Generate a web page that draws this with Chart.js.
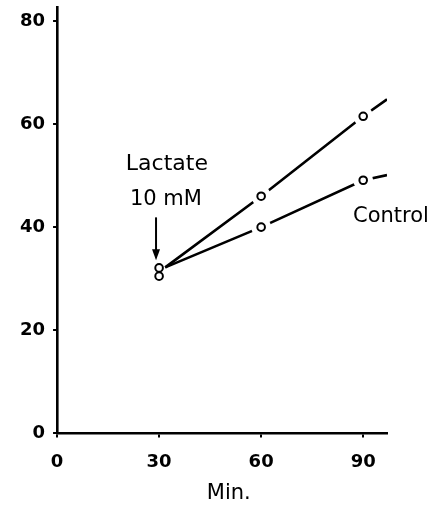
<!DOCTYPE html>
<html>
<head>
<meta charset="utf-8">
<script src="https://cdn.jsdelivr.net/npm/chart.js@4.4.0/dist/chart.umd.min.js"></script>
<style>
  html, body { margin: 0; padding: 0; background: #fff; }
  #wrap { width: 448px; height: 508px; }
</style>
</head>
<body>
<div id="wrap"><canvas id="c"></canvas></div>
<script>
// values (x in min, y in arbitrary units)
var minutes = [30, 60, 90];
var lactate = [32.1, 46, 61.5];
var control = [30.5, 40, 49.1];
// line runs: start just right of the "8", end past the last point
var lactateLineX = [31.8, 60, 90, 97];
var lactateLineY = [32.2, 46, 61.5, 64.8];
var controlLineX = [31.8, 60, 90, 97];
var controlLineY = [32.2, 40, 49.1, 50.1];
var xTicks = [0, 30, 60, 90];
var yTicks = [0, 20, 40, 60, 80];

function pts(xs, ys) {
    return xs.map(function (x, i) { return { x: x, y: ys[i] }; });
}

var FONT = '"DejaVu Sans", sans-serif';

// white ring behind the open circles so the lines break around them
var halo = {
    id: 'halo',
    beforeDatasetDraw: function (chart, args) {
        if (args.index < 3) return;
        var ctx = chart.ctx;
        ctx.save();
        ctx.fillStyle = '#fff';
        args.meta.data.forEach(function (p, i) {
            if (i === 0) return;
            ctx.beginPath();
            ctx.arc(p.x, p.y, 10, 0, Math.PI * 2);
            ctx.fill();
        });
        ctx.restore();
    }
};

var notes = {
    id: 'notes',
    afterDatasetsDraw: function (chart) {
        var ctx = chart.ctx;
        var xs = chart.scales.x, ys = chart.scales.y;
        ctx.save();
        ctx.fillStyle = '#000';
        ctx.strokeStyle = '#000';
        ctx.font = '22px ' + FONT;
        ctx.textAlign = 'center';
        ctx.textBaseline = 'middle';
        ctx.fillText('Lactate', xs.getPixelForValue(32.3), ys.getPixelForValue(52.1));
        ctx.font = '21px ' + FONT;
        ctx.fillText('10 mM', xs.getPixelForValue(32), ys.getPixelForValue(45.3));
        // axis title
        ctx.fillText('Min.', xs.getPixelForValue(50.5), ys.bottom + 60);
        ctx.textAlign = 'left';
        ctx.fillText('Control', xs.getPixelForValue(87), ys.getPixelForValue(42));
        // arrow
        var ax = xs.getPixelForValue(29.1);
        var y1 = ys.getPixelForValue(41.9), y2 = ys.getPixelForValue(33.6);
        ctx.lineWidth = 2;
        ctx.beginPath();
        ctx.moveTo(ax, y1);
        ctx.lineTo(ax, y2 - 8);
        ctx.stroke();
        ctx.beginPath();
        ctx.moveTo(ax - 4, y2 - 11);
        ctx.lineTo(ax, y2);
        ctx.lineTo(ax + 4, y2 - 11);
        ctx.closePath();
        ctx.fill();
        ctx.restore();
    }
};

new Chart(document.getElementById('c'), {
    type: 'scatter',
    data: {
        datasets: [
            {
                label: 'Lactate line',
                data: pts(lactateLineX, lactateLineY),
                showLine: true,
                borderColor: '#000',
                borderWidth: 2.6,
                pointRadius: 0,
                order: 3
            },
            {
                label: 'Control line',
                data: pts(controlLineX, controlLineY),
                showLine: true,
                borderColor: '#000',
                borderWidth: 2.6,
                pointRadius: 0,
                order: 3
            },
            {
                label: 'spacer',
                data: [],
                order: 2
            },
            {
                label: 'Lactate',
                data: pts(minutes, lactate),
                pointRadius: 3.8,
                pointBackgroundColor: '#fff',
                pointBorderColor: '#000',
                pointBorderWidth: 2,
                order: 1
            },
            {
                label: 'Control',
                data: pts(minutes, control),
                pointRadius: 3.8,
                pointBackgroundColor: '#fff',
                pointBorderColor: '#000',
                pointBorderWidth: 2,
                order: 1
            }
        ]
    },
    options: {
        responsive: true,
        maintainAspectRatio: false,
        animation: false,
        layout: { padding: { top: 7, right: 61, left: 12, bottom: 21 } },
        plugins: {
            legend: { display: false },
            tooltip: { enabled: false }
        },
        scales: {
            x: {
                type: 'linear',
                min: 0,
                max: 97,
                afterBuildTicks: function (s) { s.ticks = xTicks.map(function (v) { return { value: v }; }); },
                border: { color: '#000', width: 2.6 },
                grid: { drawOnChartArea: false, color: '#000', tickLength: 4, lineWidth: 2 },
                ticks: { color: '#000', font: { family: FONT, size: 18, weight: 'bold' }, padding: 14, maxRotation: 0 }
            },
            y: {
                type: 'linear',
                min: 0,
                max: 82.7,
                afterBuildTicks: function (s) { s.ticks = yTicks.map(function (v) { return { value: v }; }); },
                afterFit: function (s) { s.paddingTop = 0; s.paddingBottom = 0; },
                border: { color: '#000', width: 2.6 },
                grid: { drawOnChartArea: false, color: '#000', tickLength: 4, lineWidth: 2 },
                ticks: { color: '#000', font: { family: FONT, size: 18, weight: 'bold' }, padding: 8 }
            }
        }
    },
    plugins: [halo, notes]
});
</script>
</body>
</html>
